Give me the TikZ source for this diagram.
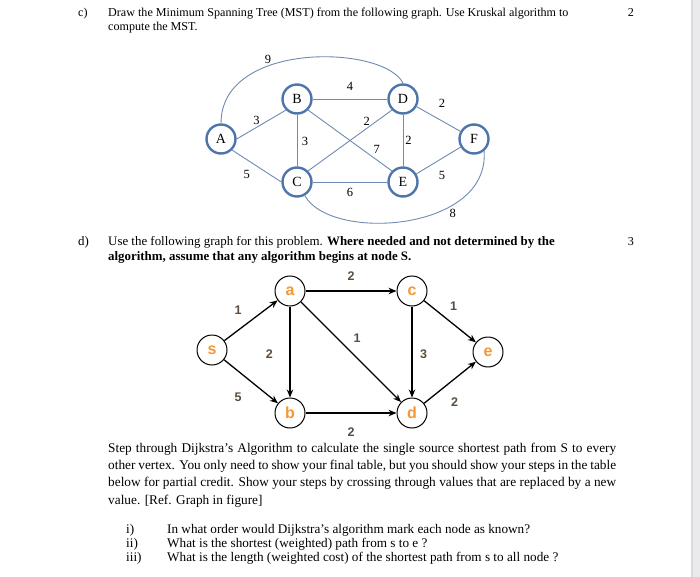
\documentclass[tikz,border=0pt]{standalone}
\usepackage{fontspec}
\setmainfont{Liberation Serif}
\setsansfont{Liberation Sans}
\usetikzlibrary{arrows.meta, positioning}
\definecolor{nodeblue}{RGB}{78,116,172}
\definecolor{edgeblue}{RGB}{112,138,176}
\definecolor{letterorange}{RGB}{242,152,52}
\definecolor{weightbrown}{RGB}{92,76,60}
\definecolor{pagestrip}{RGB}{234,234,236}
\definecolor{stripedge}{RGB}{218,218,222}
\hyphenpenalty=10000
\exhyphenpenalty=10000
\lineskiplimit=-20pt

\begin{document}
\begin{tikzpicture}[x=1pt, y=-1pt,
    vtx/.style={circle, draw=nodeblue, fill=white, line width=2.4pt,
                minimum size=29pt, inner sep=0pt, font=\fontsize{14}{14}\selectfont},
    edge/.style={draw=edgeblue, line width=0.9pt},
    wt/.style={inner sep=1pt, font=\fontsize{12.5}{12.5}\selectfont},
    vtxs/.style={circle, draw, fill=white, line width=1pt, minimum size=30pt,
                 inner sep=0pt, text=letterorange,
                 font=\sffamily\bfseries\fontsize{16}{16}\selectfont},
    arc/.style={-{Stealth[length=8pt, width=6.5pt]}, line width=1.3pt},
    wts/.style={inner sep=1pt, text=weightbrown,
                font=\sffamily\bfseries\fontsize{12.5}{12.5}\selectfont},
    txt/.style={inner sep=0pt, anchor=base west},
    hd/.style={font=\fontsize{12.1}{14}\selectfont},
  ]
  \fill[white] (0,0) rectangle (700,577);
  \useasboundingbox (0,0) rectangle (700,577);
  \fill[pagestrip] (691,0) rectangle (700,577);
  \fill[stripedge] (691,0) rectangle (693,577);

  % part c)
  \node[txt, hd] (cmark) at (78,16.5) {c)};
  \node[txt, hd, align=left] (ctext) at (108,30.5)
    {Draw the Minimum Spanning Tree (MST) from the following graph. Use Kruskal algorithm to\\compute the MST.};
  \node[txt, hd, anchor=base] (cscore) at (631,16.5) {2};

  \node[vtx] (A) at (221,139) {A};
  \node[vtx] (B) at (297,99)  {B};
  \node[vtx] (C) at (297,182) {C};
  \node[vtx] (D) at (403,99)  {D};
  \node[vtx] (E) at (403,182) {E};
  \node[vtx] (F) at (474,139) {F};

  \draw[edge] (A.north) .. controls (221,40) and (385,45) .. node[wt, pos=0.35, above=0.5pt] {9} (D.north);
  \draw[edge] (A.east) -- node[wt, pos=0.4, above=1pt] {3} (B.south west);
  \draw[edge] (A.south east) -- node[wt, pos=0.3, below=9pt] {5} (C.west);
  \draw[edge] (B) -- node[wt, above=7pt] {4} (D);
  \draw[edge] (B) -- node[wt, pos=0.52, right=3.5pt] {3} (C);
  \draw[edge] (B.south east) -- node[wt, pos=0.82, above=5pt] {7} (E.north west);
  \draw[edge] (C.north east) -- node[wt, pos=0.7, above=1.5pt] {2} (D.south west);
  \draw[edge] (C) -- node[wt, below=5pt] {6} (E);
  \draw[edge] (D) -- node[wt, right=1pt] {2} (E);
  \draw[edge] (D) -- node[wt, pos=0.58, above=12pt] {2} (F);
  \draw[edge] (E) -- node[wt, pos=0.58, below=11.5pt] {5} (F);
  \draw[edge] (C.-60) .. controls (330,242) and (490,232) .. node[wt, pos=0.7, below=3pt] {8} (F.-50);

  % part d)
  \node[txt, font=\fontsize{12.9}{14.5}\selectfont] (dmark) at (78,245.5) {d)};
  \node[txt, font=\fontsize{12.9}{14.5}\selectfont, align=left] (dtext) at (108,260)
    {Use the following graph for this problem. \textbf{Where needed and not determined by the}\\
     \textbf{algorithm, assume that any algorithm begins at node S.}};
  \node[txt, hd, anchor=base] (dscore) at (631,245.5) {3};

  \node[vtxs] (s) at (212,350) {s};
  \node[vtxs] (a) at (290,291) {a};
  \node[vtxs, right=91pt of a] (c) {c};
  \node[vtxs, below=91pt of a] (b) {b};
  \node[vtxs, right=91pt of b] (d) {d};
  \node[vtxs] (e) at (488,352) {e};

  \draw[arc] (s) -- node[wts, pos=0.26, above=14.5pt] {1} (a);
  \draw[arc] (s) -- node[wts, pos=0.26, below=20.5pt] {5} (b);
  \draw[arc] (a) -- node[wts, pos=0.52, left=15.5pt] {2} (b);
  \draw[arc] (a) -- node[wts, above=8.5pt] {2} (c);
  \draw[arc] (a) -- node[wts, pos=0.56, above=13.5pt] {1} (d);
  \draw[arc] (c) -- node[wts, pos=0.52, right=6.5pt] {3} (d);
  \draw[arc] (c) -- node[wts, pos=0.57, above=12pt] {1} (e);
  \draw[arc] (b) -- node[wts, below=13.5pt] {2} (d);
  \draw[arc] (d) -- node[wts, pos=0.59, below=17.5pt] {2} (e);

  \node[txt, text width=508pt, align=justify, font=\fontsize{13.3}{17.4}\selectfont] (dijk) at (108,452)
    {Step through Dijkstra's Algorithm to calculate the single source shortest path from S to every\linebreak
     other vertex. You only need to show your final table, but you should show your steps in the table\linebreak
     below for partial credit. Show your steps by crossing through values that are replaced by a new\linebreak
     value. [Ref. Graph in figure]};

  \node[txt, align=left, font=\fontsize{13.2}{14}\selectfont] (qnum) at (126,561) {i)\\ii)\\iii)};
  \node[txt, align=left, font=\fontsize{13.2}{14}\selectfont] (qtext) at (167,561)
    {In what order would Dijkstra's algorithm mark each node as known?\\
     What is the shortest (weighted) path from s to e ?\\
     What is the length (weighted cost) of the shortest path from s to all node ?};
\end{tikzpicture}
\end{document}
